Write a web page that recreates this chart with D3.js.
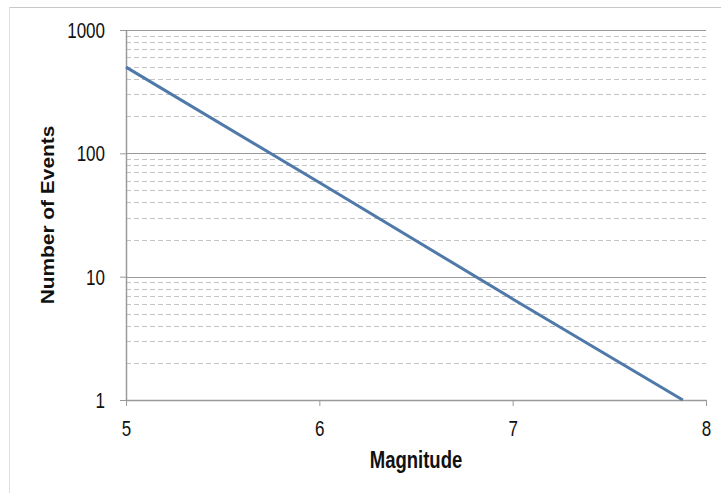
<!DOCTYPE html>
<html>
<head>
<meta charset="utf-8">
<script src="https://cdn.jsdelivr.net/npm/d3@7"></script>
<style>
  body { margin: 0; background: #fff; }
  text { font-family: "Liberation Sans", Arial, sans-serif; fill: #111; }
</style>
</head>
<body>
<svg width="721" height="493"></svg>
<script>
// data
var magnitudes = [5, 6, 7, 7.88];
var events = [500, 58, 6.6, 1];
var xTicks = [5, 6, 7, 8];
var yTicks = [1, 10, 100, 1000];
var minorTicks = [2,3,4,5,6,7,8,9, 20,30,40,50,60,70,80,90, 200,300,400,500,600,700,800,900];

var svg = d3.select('svg');

var x = d3.scaleLinear().domain([5, 8]).range([126, 706]);
var y = d3.scaleLog().domain([1, 1000]).range([400, 30]);

// outer frame
svg.append('line').attr('x1', 9).attr('x2', 721).attr('y1', 7.5).attr('y2', 7.5)
  .attr('stroke', '#c8c8c8');
svg.append('line').attr('x1', 9.5).attr('x2', 9.5).attr('y1', 7).attr('y2', 493)
  .attr('stroke', '#e0e0e0');

// minor grid
svg.append('g').selectAll('line')
  .data(minorTicks)
  .enter()
  .append('line')
  .attr('x1', x(5)).attr('x2', x(8))
  .attr('y1', d => Math.round(y(d)) + 0.5)
  .attr('y2', d => Math.round(y(d)) + 0.5)
  .attr('stroke', '#c4c4c4')
  .attr('stroke-dasharray', '5,3');

// major grid
svg.append('g').selectAll('line')
  .data([10, 100, 1000])
  .enter()
  .append('line')
  .attr('x1', x(5)).attr('x2', x(8))
  .attr('y1', d => Math.round(y(d)) + 0.5)
  .attr('y2', d => Math.round(y(d)) + 0.5)
  .attr('stroke', '#9a9a9a');

// axes
var yAxis = svg.append('g')
  .attr('transform', 'translate(' + x(5) + ',0)')
  .call(d3.axisLeft(y).tickValues(yTicks).tickFormat(d3.format('d')).tickSize(6).tickSizeOuter(0).tickPadding(15));

var xAxis = svg.append('g')
  .attr('transform', 'translate(0,' + y(1) + ')')
  .call(d3.axisBottom(x).tickValues(xTicks).tickFormat(d3.format('d')).tickSize(6).tickSizeOuter(0));

[yAxis, xAxis].forEach(function(g) {
  g.select('.domain').attr('stroke', '#9a9a9a').attr('stroke-width', 1.5);
  g.selectAll('.tick line').attr('stroke', '#9a9a9a');
  g.selectAll('.tick text')
    .attr('font-size', 17)
    .attr('font-family', '"Liberation Sans", Arial, sans-serif')
    .attr('fill', '#111');
});
// the picture is stretched a little in height, so the text is too
yAxis.selectAll('.tick text').attr('transform', 'scale(1,1.25)').attr('dy', '0.36em');
xAxis.selectAll('.tick text').attr('y', 29).attr('dy', 0).attr('transform', 'scale(1,1.25)');

// the curve
var line = d3.line()
  .x((d, i) => x(magnitudes[i]))
  .y(d => y(d));

svg.append('path')
  .datum(events)
  .attr('d', line)
  .attr('fill', 'none')
  .attr('stroke', '#4f79a8')
  .attr('stroke-width', 3);

// axis titles
svg.append('text')
  .attr('transform', 'translate(416,468) scale(1,1.25)')
  .attr('text-anchor', 'middle')
  .attr('font-size', 18.5)
  .attr('font-weight', 'bold')
  .text('Magnitude');

svg.append('text')
  .attr('transform', 'translate(54,215) scale(1,1.13) rotate(-90)')
  .attr('text-anchor', 'middle')
  .attr('font-size', 18.5)
  .attr('font-weight', 'bold')
  .text('Number of Events');
</script>
</body>
</html>
